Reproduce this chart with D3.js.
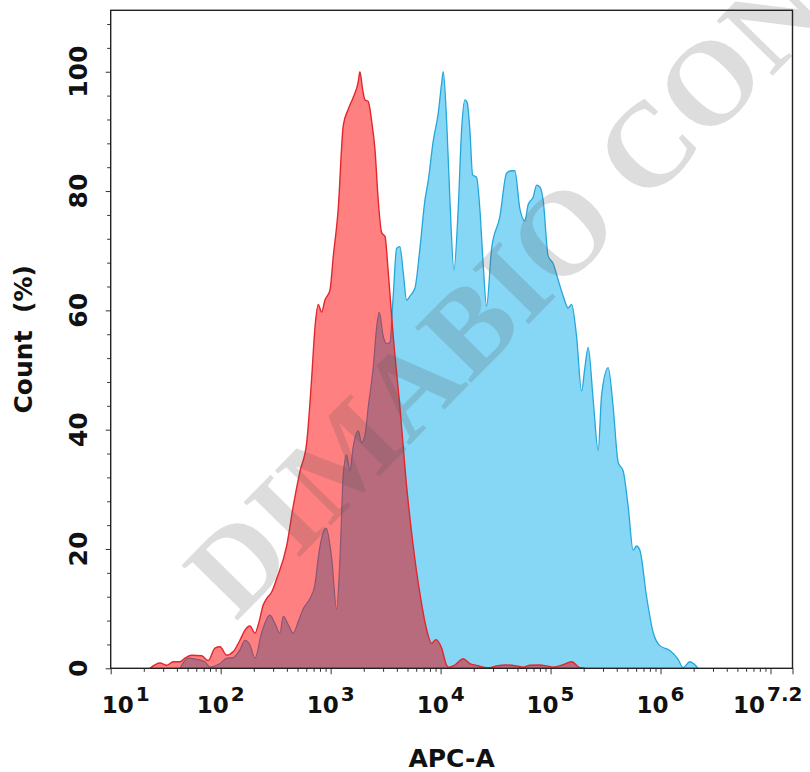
<!DOCTYPE html>
<html>
<head>
<meta charset="utf-8">
<script src="https://cdn.jsdelivr.net/npm/d3@7"></script>
<style>
  body { margin: 0; background: #fff; }
  svg { display: block; }
</style>
</head>
<body>
<div class="chart"></div>
<script>
// channel values are stored as log10 exponents, counts in % of max
const redExp = [1.357,1.448,1.509,1.569,1.630,1.675,1.736,1.827,1.887,1.948,1.994,2.055,2.115,2.175,2.221,2.266,2.312,2.342,2.387,2.418,2.464,2.509,2.600,2.660,2.721,2.782,2.827,2.857,2.887,2.918,2.948,2.994,3.024,3.069,3.115,3.160,3.205,3.251,3.266,3.291,3.312,3.342,3.373,3.403,3.433,3.464,3.494,3.524,3.569,3.630,3.691,3.751,3.812,3.873,3.918,3.957,4.009,4.055,4.069,4.130,4.205,4.266,4.327,4.387,4.448,4.509,4.600,4.691,4.751,4.812,4.900,4.964,5.024,5.115,5.191,5.266,5.310];
const redPct = [0,0.9,0.5,1.1,1.1,1.7,2.2,2.1,1.3,3.4,3.6,2.2,2.8,4.7,6.4,7.1,5.9,7.3,10.6,11.7,12.8,15,20.5,27.2,33,37.8,48.5,57,61,59.7,61.7,63.4,69,77,91,93.7,95.7,98.3,100,97,95.3,95,91.7,87,78.4,73,72.4,66.4,55.7,43.8,30.5,20.5,12.5,6.5,4.2,4.8,3.4,0.5,0.2,0.55,1.6,0.8,0.5,0.2,0.1,0.4,0.55,0.4,0.2,0.5,0.55,0.4,0.2,0.6,1.1,0.1,0];

const blueExp = [1.630,1.705,1.782,1.857,1.903,1.994,2.055,2.115,2.175,2.221,2.266,2.312,2.373,2.448,2.494,2.539,2.569,2.615,2.660,2.705,2.751,2.812,2.857,2.887,2.918,2.960,3.009,3.055,3.085,3.115,3.145,3.175,3.205,3.251,3.282,3.312,3.342,3.387,3.418,3.442,3.478,3.509,3.539,3.569,3.600,3.630,3.660,3.691,3.721,3.766,3.812,3.857,3.887,3.933,3.978,4.009,4.024,4.055,4.085,4.121,4.160,4.191,4.221,4.242,4.266,4.291,4.327,4.357,4.387,4.418,4.464,4.539,4.600,4.646,4.675,4.721,4.766,4.796,4.842,4.873,4.903,4.933,4.978,5.024,5.069,5.115,5.160,5.191,5.236,5.282,5.312,5.342,5.387,5.433,5.464,5.524,5.569,5.615,5.660,5.705,5.751,5.782,5.812,5.873,5.933,5.994,6.085,6.160,6.205,6.266,6.342];
const bluePct = [0,1.7,1.5,1.1,0.2,0.8,1.7,1.8,3.1,4.7,3.9,1.7,6.0,8.9,7.5,5.9,8.7,7.3,5.9,7.8,10,11.7,14,18.5,21.8,23.5,18.5,9.9,18.5,32.5,35.8,33.1,37.1,39.8,37.8,39.1,43.8,50.4,57.1,59.7,55.7,54.4,54.6,62.4,70.4,70.7,66.4,61.7,62.4,63.7,70.4,78.4,81.7,88.4,93,98,100,91.7,78.4,66.8,77,90.3,95.3,94.8,90.3,82.7,82.3,77,67.8,60.7,70.4,75.7,83,83.4,83.4,77,75,77.7,79,81,80.7,78.4,69.1,67.8,65.1,62.4,60.4,61,55.7,46.5,50.4,53.8,45.1,36.5,45.8,50.4,43.8,34.5,33.1,27.2,19.8,20.5,19.8,12,6,3.8,3,1.5,0.1,1.1,0];

const decadeExps = [1, 2, 3, 4, 5, 6, 7];
const lastExp = 7.2;
const labelExps = ['1', '2', '3', '4', '5', '6', '7.2'];
const yMajor = [0, 20, 40, 60, 80, 100];

const svg_width = 810, svg_height = 772;
const svg = d3.select('.chart').append('svg')
    .attr('width', svg_width).attr('height', svg_height);
svg.append('rect').attr('width', svg_width).attr('height', svg_height).attr('fill', '#fff');

const plot = {left: 110.7, right: 792.5, top: 10.3, bottom: 668.3};
const xScale = d3.scaleLog().domain([10, Math.pow(10, lastExp)]).range([plot.left, plot.right]);
const yScale = d3.scaleLinear().domain([0, 110.3]).range([plot.bottom, plot.top]);

const red = redExp.map((e, i) => [e, redPct[i]]);
const blue = blueExp.map((e, i) => [e, bluePct[i]]);

const areaGen = d3.area()
    .x(d => xScale(Math.pow(10, d[0])))
    .y0(yScale(0))
    .y1(d => yScale(d[1]))
    .curve(d3.curveMonotoneX);
const lineGen = d3.line()
    .x(d => xScale(Math.pow(10, d[0])))
    .y(d => yScale(d[1]))
    .curve(d3.curveMonotoneX);

const defs = svg.append('defs');
defs.append('clipPath').attr('id', 'clip-blue').append('path').attr('d', areaGen(blue));
defs.append('clipPath').attr('id', 'clip-red').append('path').attr('d', areaGen(red));

const g = svg.append('g');
g.append('path').attr('d', areaGen(blue)).attr('fill', '#86d7f5');
g.append('path').attr('d', lineGen(blue)).attr('fill', 'none').attr('stroke', '#25a6da').attr('stroke-width', 1.3);
g.append('path').attr('d', areaGen(red)).attr('fill', '#ff8080');
// overlap of the two histograms
g.append('path').attr('d', areaGen(red)).attr('fill', '#b86b7c').attr('clip-path', 'url(#clip-blue)');
g.append('path').attr('d', lineGen(blue)).attr('fill', 'none').attr('stroke', '#8a5676').attr('stroke-width', 1.2)
    .attr('clip-path', 'url(#clip-red)');
g.append('path').attr('d', lineGen(red)).attr('fill', 'none').attr('stroke', '#e3262c').attr('stroke-width', 1.4);

// watermark
svg.append('text')
    .attr('transform', 'translate(236,622) rotate(-45.5)')
    .style('font-family', '"Liberation Serif", "DejaVu Serif", serif')
    .style('font-weight', 'bold')
    .style('font-size', '120px')
    .attr('fill', '#555')
    .attr('fill-opacity', 0.2)
    .text('DIMABIO CON');

// axes
const xMinor = [];
decadeExps.forEach(e => {
    for (let k = 2; k <= 9; k++) {
        const v = k * Math.pow(10, e);
        if (v < Math.pow(10, lastExp)) xMinor.push(v);
    }
});
const xMajor = decadeExps.map(e => Math.pow(10, e)).concat([Math.pow(10, lastExp)]);

const xAxisMinor = d3.axisBottom(xScale).tickValues(xMinor).tickSize(3.5).tickFormat('');
const xAxisMajor = d3.axisBottom(xScale).tickValues(xMajor).tickSize(6).tickFormat('');
svg.append('g').attr('class', 'xaxis').attr('transform', `translate(0,${plot.bottom})`).call(xAxisMinor);
svg.append('g').attr('class', 'xaxis').attr('transform', `translate(0,${plot.bottom})`).call(xAxisMajor);

const yMinor = d3.range(4, 110, 4).filter(v => v % 20 !== 0);
const yAxisMinor = d3.axisLeft(yScale).tickValues(yMinor).tickSize(3.5).tickFormat('');
const yAxisMajor = d3.axisLeft(yScale).tickValues(yMajor).tickSize(5).tickFormat('');
svg.append('g').attr('class', 'yaxis').attr('transform', `translate(${plot.left},0)`).call(yAxisMinor);
svg.append('g').attr('class', 'yaxis').attr('transform', `translate(${plot.left},0)`).call(yAxisMajor);

svg.selectAll('.xaxis .domain, .yaxis .domain').remove();
svg.selectAll('.tick line').attr('stroke', '#333').attr('stroke-width', 1);

svg.append('rect')
    .attr('x', plot.left).attr('y', plot.top)
    .attr('width', plot.right - plot.left).attr('height', plot.bottom - plot.top)
    .attr('fill', 'none').attr('stroke', '#222').attr('stroke-width', 1.4);

const labelFont = '"DejaVu Sans", Verdana, sans-serif';

// y tick labels (rotated)
svg.append('g').selectAll('text').data(yMajor).enter()
    .append('text')
    .attr('transform', d => `translate(86.7,${yScale(d)}) rotate(-90)`)
    .attr('text-anchor', 'middle')
    .style('font-family', labelFont).style('font-weight', 'bold').style('font-size', '25px')
    .attr('fill', '#111')
    .text(d => d);

// x tick labels 10^n (no label at 10^7, the last one is 10^7.2)
const nLab = labelExps.length;
const xl = svg.append('g').selectAll('text').data(labelExps).enter()
    .append('text')
    .attr('x', (d, i) => i === 0 ? 101.7 : (i === nLab - 1 ? 733 : xScale(Math.pow(10, +d))))
    .attr('y', 713)
    .attr('text-anchor', (d, i) => (i === 0 || i === nLab - 1) ? 'start' : 'middle')
    .style('font-family', labelFont).style('font-weight', 'bold').style('font-size', '23px')
    .attr('fill', '#111');
xl.append('tspan').text('10');
xl.append('tspan').attr('dx', 2).attr('dy', -12).style('font-size', '20px').text(d => d);

// axis titles
svg.append('text')
    .attr('x', (plot.left + plot.right) / 2).attr('y', 767)
    .attr('text-anchor', 'middle')
    .style('font-family', labelFont).style('font-weight', 'bold').style('font-size', '25px')
    .attr('fill', '#111')
    .text('APC-A');

svg.append('text')
    .attr('transform', `translate(32,${(plot.top + plot.bottom) / 2}) rotate(-90)`)
    .attr('text-anchor', 'middle')
    .style('font-family', labelFont).style('font-weight', 'bold').style('font-size', '25px')
    .attr('fill', '#111')
    .text('Count\u00a0\u00a0(%)');
</script>
</body>
</html>
